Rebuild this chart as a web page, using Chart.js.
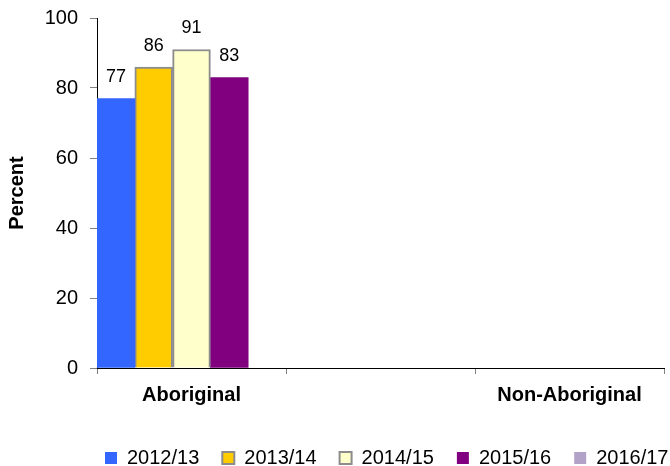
<!DOCTYPE html>
<html>
<head>
<meta charset="utf-8">
<script src="https://cdn.jsdelivr.net/npm/chart.js@4/dist/chart.umd.min.js"></script>
<style>
  html, body { margin: 0; padding: 0; background: #ffffff; }
  #wrap { width: 670px; height: 466px; }
</style>
</head>
<body>
<div id="wrap"><canvas id="c" width="670" height="466"></canvas></div>
<script>
// ---- data ----
const categories = ["Aboriginal", "", "Non-Aboriginal"];
const seriesNames = ["2012/13", "2013/14", "2014/15", "2015/16", "2016/17"];
const values2012_13 = [77, null, null];
const values2013_14 = [86, null, null];
const values2014_15 = [91, null, null];
const values2015_16 = [83, null, null];
const values2016_17 = [null, null, null];
const yTicks = [0, 20, 40, 60, 80, 100];

// ---- styles ----
const FONT = '"Liberation Sans", Arial, sans-serif';
const fills = ["#3366FF", "#FFCC00", "#FFFFCC", "#800080", "#B3A2C7"];
const borders = ["#3366FF", "#8C8C8C", "#8C8C8C", "#800080", "#B3A2C7"];
const borderWidths = [0, 2, 2, 0, 0];
const seriesValues = [values2012_13, values2013_14, values2014_15, values2015_16, values2016_17];

const datasets = seriesNames.map((name, i) => ({
  label: name,
  data: seriesValues[i],
  backgroundColor: fills[i],
  borderColor: borders[i],
  borderWidth: borderWidths[i],
  categoryPercentage: 1.0,
  barPercentage: 1.0
}));

const valueLabels = {
  id: 'valueLabels',
  afterDatasetsDraw(chart) {
    const ctx = chart.ctx;
    ctx.save();
    ctx.font = '18px ' + FONT;
    ctx.fillStyle = '#000';
    ctx.textAlign = 'center';
    ctx.textBaseline = 'middle';
    chart.data.datasets.forEach((ds, i) => {
      const meta = chart.getDatasetMeta(i);
      meta.data.forEach((bar, j) => {
        const v = ds.data[j];
        if (v === null || v === undefined) return;
        ctx.fillText(String(v), bar.x, bar.y - 21);
      });
    });
    ctx.restore();
  }
};

const legendPlace = {
  id: 'legendPlace',
  afterLayout(chart) {
    const lg = chart.legend;
    if (!lg) return;
    const pad = lg.options.labels.padding;
    const targetLeft = 105 - pad;
    const dx = targetLeft - lg.left;
    lg.left += dx; lg.right += dx;
    const targetTop = 448 - pad;
    const dy = targetTop - lg.top;
    lg.top += dy; lg.bottom += dy;
  }
};

new Chart(document.getElementById('c'), {
  type: 'bar',
  data: { labels: categories, datasets: datasets },
  plugins: [valueLabels, legendPlace],
  options: {
    responsive: false,
    animation: false,
    devicePixelRatio: 1,
    layout: { padding: { top: 18, right: 6, left: 0, bottom: 0 } },
    plugins: {
      tooltip: { enabled: false },
      legend: {
        position: 'bottom',
        align: 'start',
        labels: {
          boxWidth: 12,
          boxHeight: 12,
          padding: 23,
          color: '#000',
          font: { family: FONT, size: 20 }
        }
      }
    },
    scales: {
      x: {
        z: 1,
        offset: true,
        grid: { display: true, offset: true, drawOnChartArea: false, drawTicks: true, tickLength: 6, tickColor: '#808080' },
        border: { display: true, color: '#000', width: 1 },
        ticks: { color: '#000', padding: 9, maxRotation: 0, autoSkip: false, font: { family: FONT, size: 20, weight: 'bold' } },
        afterFit(s) { s.height = 466 - 368 - s.chart.legend.height; s.paddingLeft = 0; s.paddingRight = 0; }
      },
      y: {
        z: 1,
        min: 0, max: 100,
        afterBuildTicks(s) { s.ticks = yTicks.map(v => ({ value: v })); },
        grid: { display: true, drawOnChartArea: false, drawTicks: true, tickLength: 7, tickColor: '#808080' },
        border: { display: true, color: '#000', width: 1 },
        ticks: { color: '#000', padding: 12, font: { family: FONT, size: 20 } },
        title: { display: true, text: 'Percent', color: '#000', padding: { top: 5, bottom: 0 }, font: { family: FONT, size: 20, weight: 'bold' } },
        afterFit(s) { s.width = 97; s.paddingTop = 0; s.paddingBottom = 0; }
      }
    }
  }
});
</script>
</body>
</html>
